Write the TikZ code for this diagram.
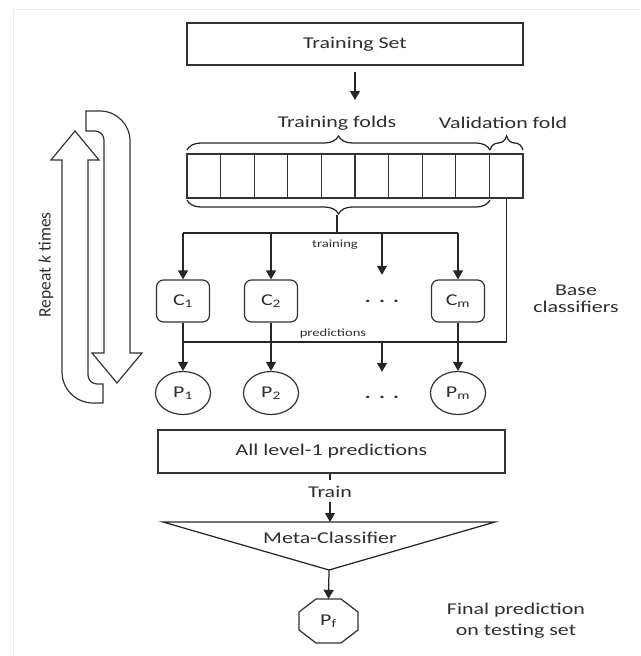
\documentclass[tikz,border=0pt]{standalone}
\usepackage{fontspec}
\setmainfont{Carlito}[FakeStretch=1.33]
\newfontfamily\plainfont{Carlito}
\usetikzlibrary{decorations.pathreplacing,arrows.meta,shapes.geometric}

\begin{document}
\begin{tikzpicture}[x=1pt,y=-1pt,
  ink/.style={draw=black!85, line width=1.25pt},
  arr/.style={ink, -{Triangle[length=9pt,width=10pt]}},
  txt/.style={text=black!82, font=\fontsize{16.5}{20}\selectfont, inner sep=2pt},
  small/.style={text=black!82, font=\fontsize{11}{13}\selectfont, inner sep=1pt},
  box/.style={txt, draw=black!80, line width=1.3pt, rectangle},
  cell/.style={draw=black!80, line width=1.2pt, rectangle, minimum width=33.6pt, minimum height=44pt, inner sep=0pt},
  clf/.style={txt, draw=black!80, line width=1.2pt, rounded corners=7pt, minimum width=53pt, minimum height=42pt},
  pred/.style={txt, draw=black!80, line width=1.2pt, ellipse, minimum width=55pt, minimum height=43pt, inner sep=0pt},
  brace/.style={ink, decorate, decoration={brace, amplitude=14pt}},
  loop/.style={draw=black!80, line width=1.2pt, line join=miter}
]
\useasboundingbox (0,0) rectangle (640,656);

% faint page frame
\draw[black!8, line width=1pt] (13,656) -- (13,9) -- (640,9);

% training set and its split into folds
\node[box, minimum width=336pt, minimum height=42pt] (set) at (355,44) {Training Set};
\coordinate (settip) at (355,100);
\draw[arr] (set.south) ++(0,6) -- (settip);

\foreach \i in {0,...,9}
  \node[cell] (f\i) at ({203.8+33.6*\i},176) {};

\draw[brace] (187,150) -- (490,150);
\draw[brace] (490,150) -- (523,150);
\node[txt] (tf) at (337,123) {Training folds};
\node[txt] (vf) at (503,123) {Validation fold};

\draw[brace, decoration={mirror}] (187,200) -- (490,200);

% base classifiers
\node[clf] (c1) at (183,301) {C\textsubscript{1}};
\node[clf] (c2) at (271,301) {C\textsubscript{2}};
\node[txt, minimum height=52pt] (cd) at (382,301) {\textbf{.\,\,\,.\,\,\,.}};
\node[clf] (cm) at (458,301) {C\textsubscript{m}};

\coordinate (bpeak) at (337,215);
\coordinate (tj) at (337,233);
\draw[ink] (bpeak) -- (tj);
\draw[ink] (c1.north |- tj) -- (cm.north |- tj);
\foreach \c in {c1,c2,cd,cm}
  \draw[arr] (\c.north |- tj) -- (\c.north);
\node[small] (trl) at (335,245) {training};

% level-1 predictions
\node[pred] (p1) at (183,393) {P\textsubscript{1}};
\node[pred] (p2) at (271,393) {P\textsubscript{2}};
\node[txt, minimum height=50pt] (pd) at (382,397) {\textbf{.\,\,\,.\,\,\,.}};
\node[pred] (pm) at (458,393) {P\textsubscript{m}};

\coordinate (pr) at (f9.south |- 0,342);
\draw[ink] (f9.south) -- (pr) -- (c1.south |- pr);
\node[small] (prl) at (333,334) {predictions};
\draw[arr] (c1.south) -- (p1.north);
\draw[arr] (c2.south) -- (p2.north);
\draw[arr] (cd.south |- pr) -- (pd.north);
\draw[arr] (cm.south) -- (pm.north);

\node[txt] (base) at (576,300) {\begin{tabular}{@{}c@{}}Base\\[-3pt]classifiers\end{tabular}};

% meta level
\node[box, minimum width=347pt, minimum height=43pt] (all) at (331.5,451.5) {All level-1 predictions};
\node[txt] (train) at (330,492) {Train};
\draw[ink] (all.south -| train) -- ++(0,6);
\coordinate (metatop) at (330,522);
\draw[arr] (train.south) ++(0,2) -- (metatop);

\coordinate (tl) at (163,522);
\coordinate (tr) at (495,522);
\coordinate (apex) at (329,570);
\draw[ink, line join=miter] (tl) -- (tr) -- (apex) -- cycle;
\node[txt] (meta) at (330,538) {Meta-Classifier};

\node[txt, minimum width=59pt, minimum height=44pt] (pf) at (328.5,621) {P\textsubscript{f}};
\draw[ink, draw=black!80] (pf.center) ++(-12.5,-22) -- ++(25,0) -- ++(17,13) -- ++(0,18)
  -- ++(-17,13) -- ++(-25,0) -- ++(-17,-13) -- ++(0,-18) -- cycle;
\draw[arr] (apex) -- (pf.north);

\node[txt, align=center] (final) at (516,621) {Final prediction\\[1pt]on testing set};

% repeat loop: upward and downward block arrows
\draw[loop] (103,403) -- (93,403) .. controls (75.9,403) and (62,389.1) .. (62,372)
  -- (62,160) -- (51,160) -- (75,131) -- (99,160) -- (88,160) -- (88,375)
  .. controls (88,380) and (92,384) .. (97,384) -- (103,384) -- cycle;
\draw[loop] (86,111) -- (100,111) .. controls (116.6,111) and (130,124.4) .. (130,141)
  -- (130,353) -- (142,353) -- (117,383) -- (92,353) -- (104,353) -- (104,140)
  .. controls (104,135) and (100,131) .. (95,131) -- (86,131) -- cycle;
\node[txt, rotate=90, font=\plainfont\fontsize{17.5}{20}\selectfont] (rep) at (46,265) {Repeat \textit{k} times};
\end{tikzpicture}
\end{document}
